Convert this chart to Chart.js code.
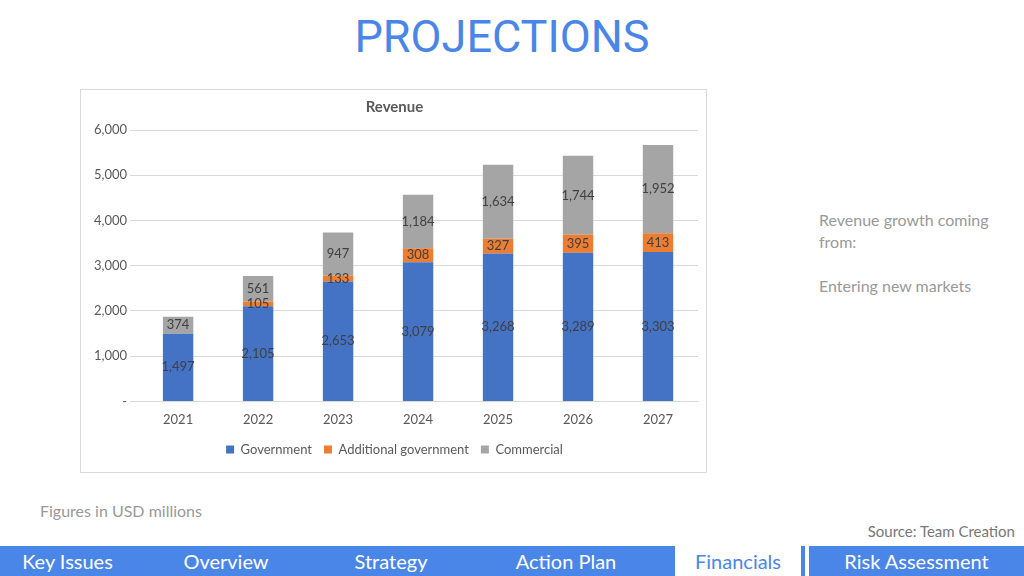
<!DOCTYPE html>
<html><head><meta charset="utf-8">
<script src="https://cdn.jsdelivr.net/npm/chart.js@4"></script>
<style>
body{margin:0;width:1024px;height:576px;background:#fff;position:relative;overflow:hidden;font-family:Lato,"Open Sans",sans-serif}
#title{position:absolute;top:10px;left:0;width:1004px;text-align:center;font-family:Roboto,"Noto Sans",sans-serif;font-size:45px;color:#4a86e8;letter-spacing:0px}
#box{position:absolute;left:80px;top:89px;width:627px;height:384px;border:1px solid #d9d9d9;box-sizing:border-box}
.t{position:absolute;color:#999;font-size:16px}
#nav{position:absolute;left:0;top:546px;width:1024px;height:30px;background:#4a86e8}
#nav div{position:absolute;top:0;height:30px;line-height:30px;color:#fff;font-size:20px;text-align:center}
</style></head><body>
<div id="title">PROJECTIONS</div>
<div id="box"><canvas id="c" width="625" height="382"></canvas></div>
<div class="t" style="left:819px;top:209px;line-height:22px">Revenue growth coming<br>from:<br><br>Entering new markets</div>
<div class="t" style="left:40px;top:501px">Figures in USD millions</div>
<div class="t" style="right:9px;top:522px;font-size:15px;color:#777">Source: Team Creation</div>
<div id="nav">
<div style="left:0;width:135px">Key Issues</div>
<div style="left:160px;width:132px">Overview</div>
<div style="left:325px;width:132px">Strategy</div>
<div style="left:500px;width:132px">Action Plan</div>
<div style="left:675px;width:126px;background:#fff;color:#4a86e8">Financials</div>
<div style="left:805px;width:219px;border-left:4px solid #fff;box-sizing:border-box">Risk Assessment</div>
</div>
<script>
const years=["2021","2022","2023","2024","2025","2026","2027"];
const government=[1497,2105,2653,3079,3268,3289,3303];
const additionalGovernment=[0,105,133,308,327,395,413];
const commercial=[374,561,947,1184,1634,1744,1952];
const labelsPlugin={id:'lbl',afterDatasetsDraw(ch){const ctx=ch.ctx;ctx.save();ctx.font='13px Lato, sans-serif';ctx.fillStyle='#404040';ctx.textAlign='center';ctx.textBaseline='middle';
ch.data.datasets.forEach((ds,i)=>{ch.getDatasetMeta(i).data.forEach((b,j)=>{const v=ds.data[j];if(!v)return;const y=(b.y+b.base)/2;ctx.fillText(v.toLocaleString('en-US'),b.x,y);});});ctx.restore();}};
new Chart(document.getElementById('c'),{type:'bar',
data:{labels:years,datasets:[
{label:'Government',data:government,backgroundColor:'#4472c4'},
{label:'Additional government',data:additionalGovernment,backgroundColor:'#ed7d31'},
{label:'Commercial',data:commercial,backgroundColor:'#a5a5a5'}]},
options:{responsive:false,animation:false,devicePixelRatio:1,
layout:{padding:{left:10,right:8,top:0,bottom:6}},
datasets:{bar:{barPercentage:0.38,categoryPercentage:1}},
plugins:{title:{display:true,text:'Revenue',color:'#595959',font:{size:15,family:'Lato'},padding:{top:8,bottom:14}},
legend:{position:'bottom',labels:{color:'#595959',boxWidth:8,boxHeight:8,font:{size:13,family:'Lato'},padding:12}},tooltip:{enabled:false}},
scales:{x:{stacked:true,grid:{display:false},border:{color:'#d9d9d9'},ticks:{color:'#595959',font:{size:13,family:'Lato'}}},
y:{stacked:true,min:0,max:6000,ticks:{stepSize:1000,color:'#595959',font:{size:13,family:'Lato'},callback:v=>v===0?'-':v.toLocaleString('en-US')},grid:{color:'#d9d9d9'},border:{display:false}}}},
plugins:[labelsPlugin]});
</script></body></html>
